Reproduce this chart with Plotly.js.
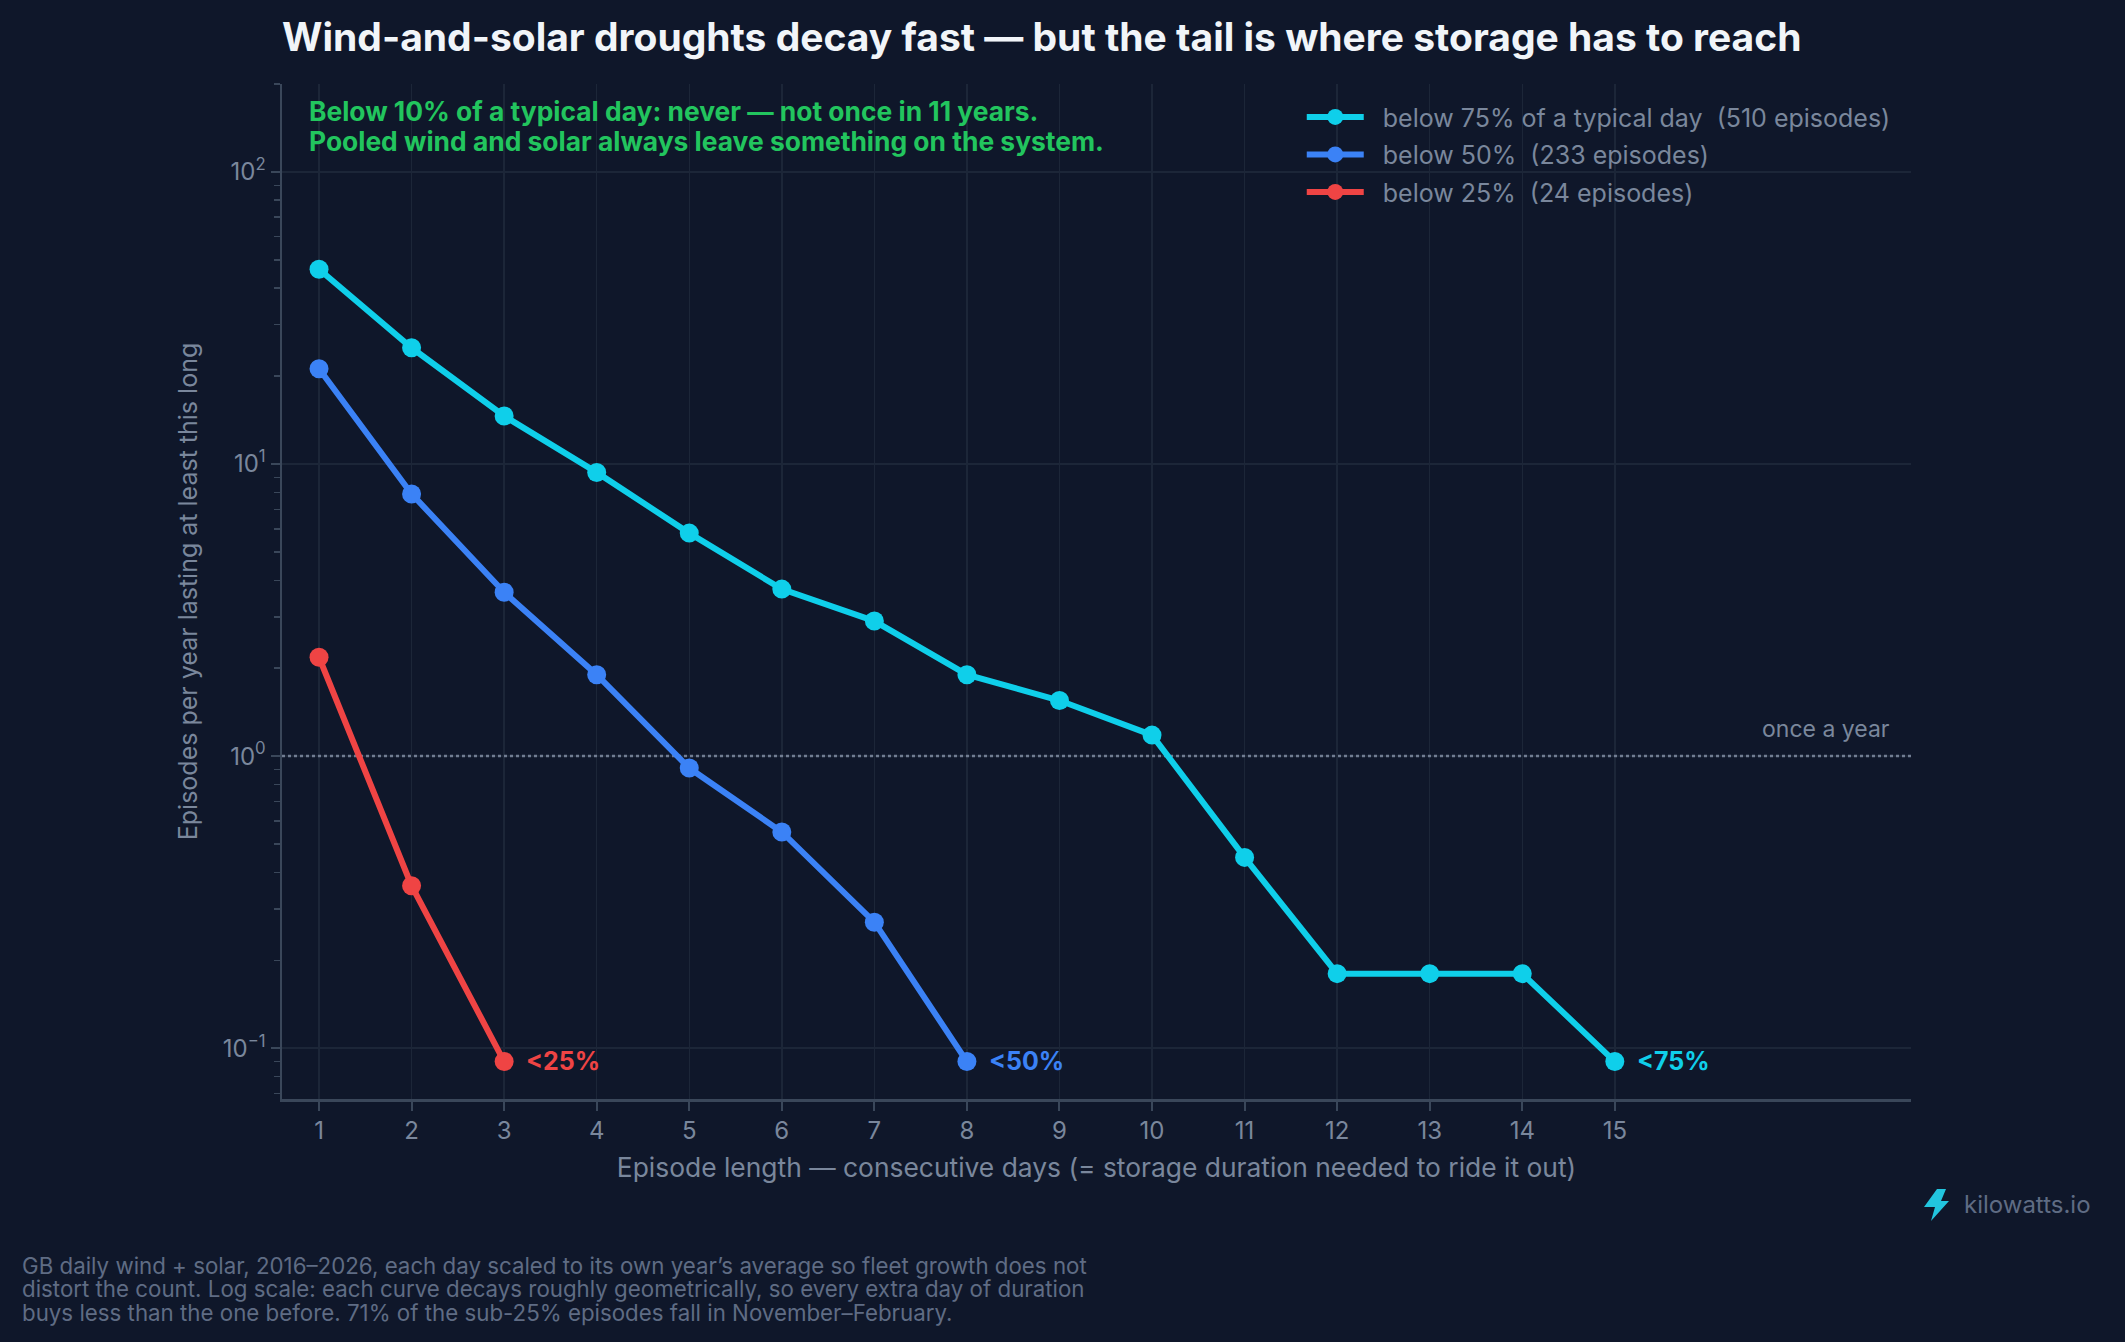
<!DOCTYPE html>
<html>
<head>
<meta charset="utf-8">
<script src="https://cdn.plot.ly/plotly-3.0.1.min.js"></script>
<style>
  html, body { margin: 0; padding: 0; background: #0f172a; }
  #chart { width: 2125px; height: 1342px; }
</style>
</head>
<body>
<div id="chart"></div>
<script>
// episodes per year lasting at least N days, GB wind + solar 2016-2026
const days75 = [1, 2, 3, 4, 5, 6, 7, 8, 9, 10, 11, 12, 13, 14, 15];
const rate75 = [46.4, 25.0, 14.6, 9.36, 5.8, 3.73, 2.9, 1.9, 1.55, 1.18, 0.45, 0.18, 0.18, 0.18, 0.09];

const days50 = [1, 2, 3, 4, 5, 6, 7, 8];
const rate50 = [21.2, 7.9, 3.64, 1.9, 0.91, 0.55, 0.27, 0.09];

const days25 = [1, 2, 3];
const rate25 = [2.18, 0.36, 0.09];

const seriesNames = [
  'below 75% of a typical day  (510 episodes)',
  'below 50%  (233 episodes)',
  'below 25%  (24 episodes)'
];
const endLabels = ['<75%', '<50%', '<25%'];
const colors = ['#0fcfea', '#3b82f6', '#ef4444'];

const xTicks = [1, 2, 3, 4, 5, 6, 7, 8, 9, 10, 11, 12, 13, 14, 15];
const yTickVals = [0.1, 1, 10, 100];
const yTickText = ['10<sup>\u22121</sup>', '10<sup>0</sup>', '10<sup>1</sup>', '10<sup>2</sup>'];
const yMinorVals = [0.07, 0.08, 0.09, 0.2, 0.3, 0.4, 0.5, 0.6, 0.7, 0.8, 0.9,
  2, 3, 4, 5, 6, 7, 8, 9, 20, 30, 40, 50, 60, 70, 80, 90, 200];
const xRange = [0.6, 18.2];
const onceAYear = 1;

const FONT = 'Inter, "Noto Sans", sans-serif';
const BG = '#0f172a';
const MUTED = '#7a879c';
const FAINT = '#5f6c84';

// plot box in pixels, used to place the free-standing text
const W = 2125, H = 1342;
const M = { l: 282, r: 214, t: 84, b: 243 };
const px = x => (x - M.l) / (W - M.l - M.r);
const py = y => (H - M.b - y) / (H - M.t - M.b);

function curve(xs, ys, i) {
  return {
    x: xs,
    y: ys,
    name: '\u00a0\u00a0' + seriesNames[i],
    legendgroup: 'g' + i,
    type: 'scatter',
    mode: 'lines+markers',
    line: { color: colors[i], width: 6 },
    marker: { color: colors[i], size: 19 },
    cliponaxis: false,
    hoverinfo: 'skip'
  };
}

const traces = [
  {
    x: xRange,
    y: [onceAYear, onceAYear],
    type: 'scatter',
    mode: 'lines',
    line: { color: '#717d92', width: 2.5, dash: 'dot' },
    showlegend: false,
    hoverinfo: 'skip'
  },
  curve(days75, rate75, 0),
  curve(days50, rate50, 1),
  curve(days25, rate25, 2)
];

const footnote = [
  'GB daily wind + solar, 2016\u20132026, each day scaled to its own year\u2019s average so fleet growth does not',
  'distort the count. Log scale: each curve decays roughly geometrically, so every extra day of duration',
  'buys less than the one before. 71% of the sub-25% episodes fall in November\u2013February.'
];
const note = [
  'Below 10% of a typical day: never \u2014 not once in 11 years.',
  'Pooled wind and solar always leave something on the system.'
];

const annotations = [];
note.forEach((t, i) => annotations.push({
  xref: 'paper', yref: 'paper', x: px(307), y: py(111 + i * 30),
  xanchor: 'left', yanchor: 'middle', showarrow: false, text: t,
  font: { family: FONT, size: 26.4, color: '#22c55e', weight: 700 }
}));
footnote.forEach((t, i) => annotations.push({
  xref: 'paper', yref: 'paper', x: px(20), y: py(1265 + i * 23.5),
  xanchor: 'left', yanchor: 'middle', showarrow: false, text: t,
  font: { family: FONT, size: 22.3, color: FAINT }
}));
// end-of-curve labels at each series' last point
[[days75, rate75], [days50, rate50], [days25, rate25]].forEach(([xs, ys], i) => annotations.push({
  xref: 'x', yref: 'y', x: xs[xs.length - 1], y: Math.log10(ys[ys.length - 1]),
  xanchor: 'left', yanchor: 'middle', xshift: 20, yshift: 1, showarrow: false,
  text: endLabels[i], font: { family: FONT, size: 25, color: colors[i], weight: 700 }
}));
annotations.push({
  xref: 'paper', yref: 'y', x: px(1892), y: Math.log10(onceAYear),
  xanchor: 'right', yanchor: 'bottom', yshift: 11, showarrow: false,
  text: 'once a year', font: { family: FONT, size: 23, color: MUTED }
});
annotations.push({
  xref: 'paper', yref: 'paper', x: px(1962), y: py(1204),
  xanchor: 'left', yanchor: 'middle', showarrow: false,
  text: 'kilowatts.io', font: { family: FONT, size: 24, color: FAINT }
});

// lightning bolt logo
const bolt = [[1937, 1189], [1946, 1189], [1941, 1201], [1949, 1201], [1931, 1221], [1935, 1207], [1924, 1207]];
const boltPath = bolt.map((p, i) => (i ? 'L' : 'M') + px(p[0]) + ',' + py(p[1])).join(' ') + ' Z';

const layout = {
  width: W,
  height: H,
  margin: M,
  paper_bgcolor: BG,
  plot_bgcolor: BG,
  font: { family: FONT, color: MUTED },
  showlegend: true,
  title: {
    text: 'Wind-and-solar droughts decay fast \u2014 but the tail is where storage has to reach',
    font: { family: FONT, size: 39, color: '#f1f5f9', weight: 700 },
    xref: 'paper', x: 0, xanchor: 'left',
    yref: 'container', y: 1 - 37 / H, yanchor: 'middle'
  },
  legend: {
    x: 0.626, xanchor: 'left', y: 0.99, yanchor: 'top',
    bgcolor: 'rgba(0,0,0,0)',
    font: { family: FONT, size: 25, color: MUTED },
    itemwidth: 57,
    tracegroupgap: 2
  },
  xaxis: {
    range: xRange,
    tickmode: 'array',
    tickvals: xTicks,
    ticks: 'outside', ticklen: 9, tickwidth: 2, tickcolor: '#3a475a',
    tickfont: { family: FONT, size: 24, color: MUTED },
    showgrid: true, gridcolor: '#1c2638', gridwidth: 1.5,
    showline: true, linecolor: '#3a475a', linewidth: 2.5,
    zeroline: false,
    title: {
      text: 'Episode length \u2014 consecutive days (= storage duration needed to ride it out)',
      font: { family: FONT, size: 26.4, color: MUTED },
      standoff: 14
    }
  },
  yaxis: {
    type: 'log',
    range: [Math.log10(0.067), Math.log10(200)],
    tickmode: 'array',
    tickvals: yTickVals,
    ticktext: yTickText,
    ticks: 'outside', ticklen: 9, tickwidth: 2, tickcolor: '#3a475a',
    tickfont: { family: FONT, size: 24, color: MUTED },
    minor: { tickmode: 'array', tickvals: yMinorVals, ticks: 'outside', ticklen: 6, tickwidth: 1.5, tickcolor: '#3a475a', showgrid: false },
    showgrid: true, gridcolor: '#1c2638', gridwidth: 1.5,
    showline: true, linecolor: '#3a475a', linewidth: 2.5,
    zeroline: false,
    title: {
      text: 'Episodes per year lasting at least this long',
      font: { family: FONT, size: 25, color: MUTED },
      standoff: 18
    }
  },
  annotations: annotations,
  shapes: [{
    type: 'path', xref: 'paper', yref: 'paper', path: boltPath,
    fillcolor: '#22c5de', line: { width: 0 }
  }]
};

Plotly.newPlot('chart', traces, layout, { staticPlot: true, displayModeBar: false });
</script>
</body>
</html>
